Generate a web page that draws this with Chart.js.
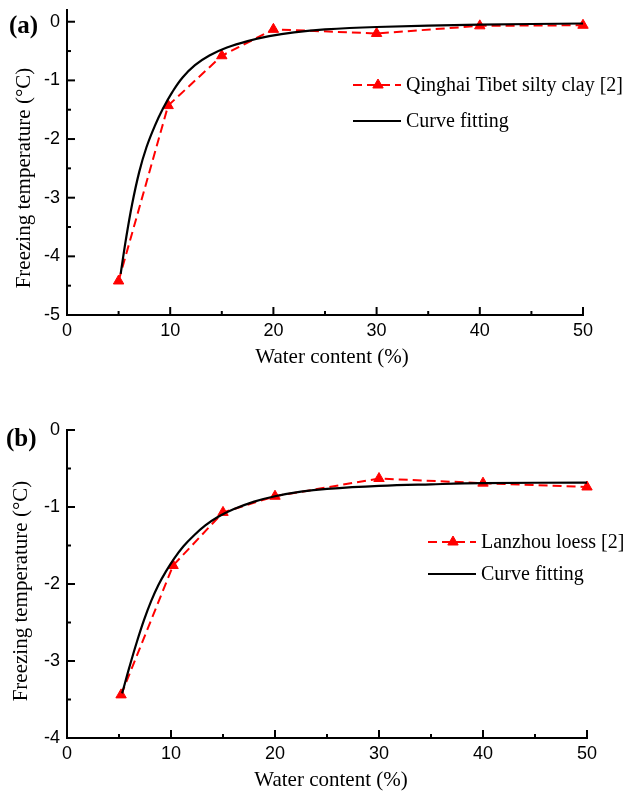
<!DOCTYPE html>
<html>
<head>
<meta charset="utf-8">
<script src="https://cdn.jsdelivr.net/npm/chart.js@4.4.0/dist/chart.umd.min.js"></script>
<style>
  body { margin: 0; background: #fff; }
  .panel { position: absolute; left: 0; }
  #panelA { top: 0; }
  #panelB { top: 392px; }
</style>
</head>
<body>
<div class="panel" id="panelA"><canvas id="chartA" width="625" height="380"></canvas></div>
<div class="panel" id="panelB"><canvas id="chartB" width="625" height="400"></canvas></div>
<script>
// (a) Qinghai Tibet silty clay
const waterA = [5, 9.8, 15, 20, 30, 40, 50];
const freezeA = [-4.42, -1.43, -0.58, -0.13, -0.2, -0.07, -0.06];
const fitWaterA = [5.2, 5.7, 6.3, 7.0, 7.7, 8.5, 9.3, 10.2, 11.2, 12.4, 13.8, 15.5, 17.5, 19.6, 22, 25, 30, 40, 50];
const fitFreezeA = [-4.3, -3.72, -3.12, -2.56, -2.14, -1.78, -1.48, -1.2, -0.95, -0.74, -0.575, -0.44, -0.33, -0.245, -0.18, -0.13, -0.09, -0.05, -0.03];

// (b) Lanzhou loess
const waterB = [5.2, 10.2, 15, 20, 30, 40, 50];
const freezeB = [-3.44, -1.76, -1.07, -0.86, -0.63, -0.69, -0.74];
const fitWaterB = [5.3, 6.0, 6.7, 7.4, 8.1, 8.8, 9.5, 10.3, 11.2, 12.2, 13.3, 14.5, 16, 18, 20, 22.5, 25, 30, 35, 40, 50];
const fitFreezeB = [-3.42, -3.08, -2.76, -2.47, -2.22, -2.01, -1.84, -1.67, -1.51, -1.37, -1.24, -1.13, -1.03, -0.93, -0.86, -0.8, -0.765, -0.726, -0.705, -0.69, -0.683];

// axis ticks
const xTicks = [0, 10, 20, 30, 40, 50];
const xMinor = [5, 15, 25, 35, 45];
const yTicksA = [-5, -4, -3, -2, -1, 0];
const yMinorA = [-4.5, -3.5, -2.5, -1.5, -0.5];
const yTicksB = [-4, -3, -2, -1, 0];
const yMinorB = [-3.5, -2.5, -1.5, -0.5];

const serif = '"Liberation Serif", "Times New Roman", serif';
const sans = '"Liberation Sans", Arial, sans-serif';

function pts(xs, ys) {
  return xs.map((x, i) => ({x: x, y: ys[i]}));
}

// inward ticks, axis titles, legend and panel letter
const decor = {
  id: 'decor',
  afterDraw(chart, args, o) {
    const ctx = chart.ctx;
    const a = chart.chartArea;
    const sx = chart.scales.x, sy = chart.scales.y;
    ctx.save();
    ctx.strokeStyle = '#000';
    ctx.lineWidth = 2;
    const tick = (vals, len, horiz) => {
      vals.forEach(v => {
        ctx.beginPath();
        if (horiz) {
          const p = sx.getPixelForValue(v);
          ctx.moveTo(p, a.bottom);
          ctx.lineTo(p, a.bottom - len);
        } else {
          const p = sy.getPixelForValue(v);
          ctx.moveTo(a.left, p);
          ctx.lineTo(a.left + len, p);
        }
        ctx.stroke();
      });
    };
    tick(o.xMajor, 8, true);
    tick(o.xMinor, 4, true);
    tick(o.yMajor, 8, false);
    tick(o.yMinor, 4, false);

    ctx.fillStyle = '#000';
    ctx.font = '21px ' + serif;
    ctx.textAlign = 'center';
    ctx.textBaseline = 'alphabetic';
    ctx.fillText(o.xTitle, o.xTitleX, o.xTitleY);
    ctx.save();
    ctx.translate(o.yTitleX, o.yTitleY);
    ctx.rotate(-Math.PI / 2);
    ctx.fillText(o.yTitle, 0, 0);
    ctx.restore();

    // legend
    ctx.font = '20px ' + serif;
    ctx.textAlign = 'left';
    ctx.textBaseline = 'middle';
    chart.data.datasets.forEach(ds => {
      const y = o.legendY + ds.legendRow * o.legendGap;
      ctx.save();
      ctx.strokeStyle = ds.borderColor;
      ctx.lineWidth = ds.borderWidth;
      ctx.setLineDash(ds.borderDash || []);
      ctx.beginPath();
      ctx.moveTo(o.legendX, y);
      ctx.lineTo(o.legendX + 48, y);
      ctx.stroke();
      ctx.restore();
      if (ds.pointRadius > 0) {
        ctx.save();
        ctx.strokeStyle = ds.pointBorderColor;
        ctx.fillStyle = ds.pointBackgroundColor;
        ctx.lineWidth = 1;
        Chart.helpers.drawPoint(ctx, {
          pointStyle: ds.pointStyle, radius: ds.pointRadius, borderWidth: 1, rotation: 0
        }, o.legendX + 25, y);
        ctx.restore();
      }
      ctx.fillStyle = '#000';
      ctx.fillText(ds.label, o.legendX + 53, y + 1);
    });

    ctx.font = 'bold 25px ' + serif;
    ctx.textBaseline = 'alphabetic';
    ctx.fillText(o.panel, o.panelX, o.panelY);
    ctx.restore();
  }
};

function makeChart(id, c) {
  return new Chart(document.getElementById(id), {
    type: 'line',
    data: {
      datasets: [
        {
          label: 'Curve fitting',
          data: pts(c.fitX, c.fitY),
          borderColor: '#000',
          borderWidth: 2.2,
          pointRadius: 0,
          tension: 0.4,
          clip: false,
          order: 0,
          legendRow: 1
        },
        {
          label: c.name,
          data: pts(c.x, c.y),
          borderColor: '#ff0000',
          borderWidth: 2,
          borderDash: [9, 5],
          pointStyle: 'triangle',
          pointRadius: 6,
          pointBackgroundColor: '#ff0000',
          pointBorderColor: '#ff0000',
          pointBorderWidth: 1,
          tension: 0,
          clip: false,
          order: 1,
          legendRow: 0
        }
      ]
    },
    options: {
      responsive: false,
      animation: false,
      events: [],
      layout: {padding: {left: 0, right: c.padRight, top: c.padTop, bottom: 0}},
      scales: {
        x: {
          type: 'linear',
          min: 0,
          max: 50,
          grid: {display: false, drawTicks: false},
          border: {display: true, color: '#000', width: 2},
          ticks: {color: '#000', font: {family: sans, size: 18}, padding: 5, maxRotation: 0},
          afterBuildTicks: s => { s.ticks = xTicks.map(v => ({value: v})); },
          afterFit: s => { s.height = c.xHeight; s.paddingLeft = 0; s.paddingRight = 0; }
        },
        y: {
          type: 'linear',
          min: c.yMin,
          max: c.yMax,
          grid: {display: false, drawTicks: false},
          border: {display: true, color: '#000', width: 2},
          ticks: {color: '#000', font: {family: sans, size: 18}, padding: 7},
          afterBuildTicks: s => { s.ticks = c.yTicks.map(v => ({value: v})); },
          afterFit: s => { s.width = 67; s.paddingTop = 0; s.paddingBottom = 0; }
        }
      },
      plugins: {
        legend: {display: false},
        tooltip: {enabled: false},
        decor: c.decor
      }
    },
    plugins: [decor]
  });
}

makeChart('chartA', {
  name: 'Qinghai Tibet silty clay [2]',
  x: waterA, y: freezeA, fitX: fitWaterA, fitY: fitFreezeA,
  yMin: -5, yMax: 0.2, yTicks: yTicksA,
  padRight: 42, padTop: 10, xHeight: 65,
  decor: {
    xMajor: xTicks, xMinor: xMinor, yMajor: yTicksA, yMinor: yMinorA,
    xTitle: 'Water content (%)', xTitleX: 332, xTitleY: 363,
    yTitle: 'Freezing temperature (\u00B0C)', yTitleX: 30, yTitleY: 178,
    legendX: 353, legendY: 85, legendGap: 36,
    panel: '(a)', panelX: 9, panelY: 33
  }
});

makeChart('chartB', {
  name: 'Lanzhou loess [2]',
  x: waterB, y: freezeB, fitX: fitWaterB, fitY: fitFreezeB,
  yMin: -4, yMax: 0, yTicks: yTicksB,
  padRight: 38, padTop: 38, xHeight: 54,
  decor: {
    xMajor: xTicks, xMinor: xMinor, yMajor: yTicksB, yMinor: yMinorB,
    xTitle: 'Water content (%)', xTitleX: 331, xTitleY: 394,
    yTitle: 'Freezing temperature (\u00B0C)', yTitleX: 27, yTitleY: 199,
    legendX: 428, legendY: 150, legendGap: 32,
    panel: '(b)', panelX: 6, panelY: 54
  }
});
</script>
</body>
</html>
